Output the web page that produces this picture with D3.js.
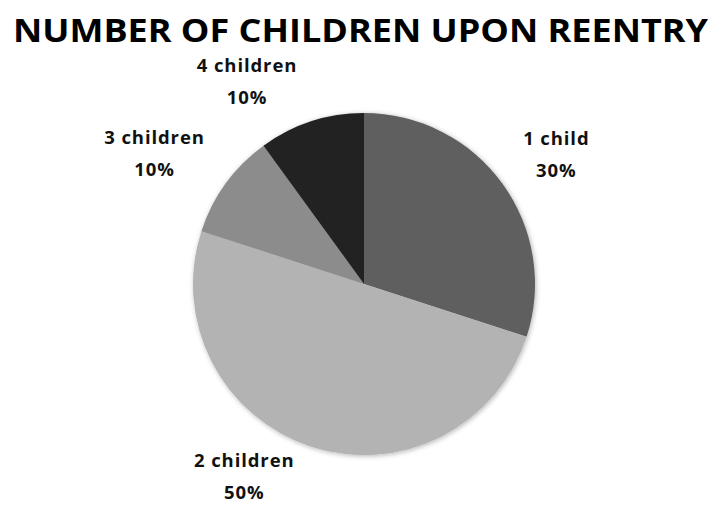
<!DOCTYPE html>
<html>
<head>
<meta charset="utf-8">
<script src="https://cdn.jsdelivr.net/npm/d3@7"></script>
<style>
  body { margin: 0; background: #fff; }
  svg { display: block; }
  .title { font-family: "Open Sans", sans-serif; font-weight: 700; fill: #000; }
  .lbl { font-family: "Open Sans", sans-serif; font-weight: 700; font-size: 18.5px; fill: #111; letter-spacing: 0.9px; }
</style>
</head>
<body>
<div id="root"></div>
<script>
// chart data
const categories = ["1 child", "2 children", "3 children", "4 children"]
const shares = [30, 50, 10, 10]
const colors = ["#5f5f5f", "#b3b3b3", "#8c8c8c", "#222222"]
const titleText = "NUMBER OF CHILDREN UPON REENTRY"

const width = 721,
	height = 506,
	cx = 364,
	cy = 284,
	radius = 171

// excel spreads the outside labels a bit, nudge angle (deg) / radius per slice
const labelNudge = [
	{ da: 2, r: 232 },
	{ da: 14, r: 226 },
	{ da: -4, r: 247 },
	{ da: -12, r: 234 },
]

const data = categories.map((name, i) => ({ name, value: shares[i], color: colors[i] }))

const svg = d3.select('#root')
	.append('svg')
	.attr('width', width)
	.attr('height', height)

const defs = svg.append('defs')
const shadow = defs.append('filter')
	.attr('id', 'soft')
	.attr('x', '-10%').attr('y', '-10%')
	.attr('width', '120%').attr('height', '120%')
shadow.append('feDropShadow')
	.attr('dx', 1).attr('dy', 1)
	.attr('stdDeviation', 2.5)
	.attr('flood-color', '#000')
	.attr('flood-opacity', 0.3)

svg.append('text')
	.attr('class', 'title')
	.attr('x', width / 2)
	.attr('y', 42)
	.attr('text-anchor', 'middle')
	.style('font-size', '32px')
	.attr('textLength', 695)
	.attr('lengthAdjust', 'spacingAndGlyphs')
	.text(titleText)

const pie = d3.pie()
	.value(d => d.value)
	.sort(null)

const arc = d3.arc()
	.innerRadius(0)
	.outerRadius(radius)

const arcs = pie(data)

const g = svg.append('g')
	.attr('transform', `translate(${cx}, ${cy})`)

g.append('g')
	.attr('filter', 'url(#soft)')
	.selectAll('path')
	.data(arcs)
	.enter()
	.append('path')
	.attr('d', arc)
	.attr('fill', d => d.data.color)

// labels: name on first line, percent below
const total = d3.sum(shares)
const labels = g.selectAll('.lblgroup')
	.data(arcs)
	.enter()
	.append('g')
	.attr('class', 'lblgroup')
	.attr('transform', (d, i) => {
		const mid = (d.startAngle + d.endAngle) / 2 + labelNudge[i].da * Math.PI / 180
		const r = labelNudge[i].r
		const x = Math.sin(mid) * r,
			y = -Math.cos(mid) * r
		return `translate(${x}, ${y})`
	})

labels.append('text')
	.attr('class', 'lbl')
	.attr('text-anchor', 'middle')
	.attr('y', -9)
	.text(d => d.data.name)

labels.append('text')
	.attr('class', 'lbl')
	.attr('text-anchor', 'middle')
	.attr('y', 23)
	.text(d => Math.round(d.data.value / total * 100) + '%')
</script>
</body>
</html>
